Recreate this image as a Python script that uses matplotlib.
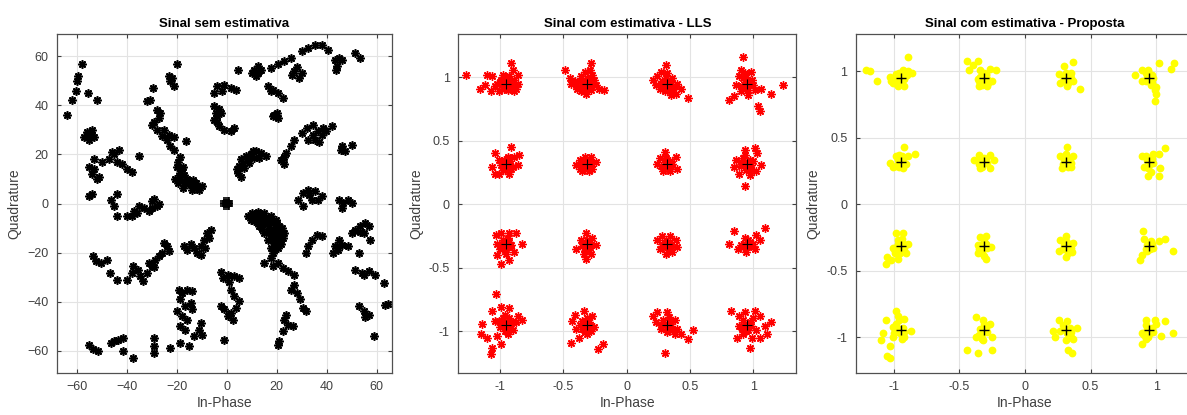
import numpy as np
import matplotlib
matplotlib.use("Agg")
import matplotlib.pyplot as plt

plt.rcParams['font.family'] = ['Liberation Sans', 'DejaVu Sans']

# ideal 16-QAM points (normalised)
ref_levels = [-0.9487, -0.3162, 0.3162, 0.9487]

# received symbols, no estimation (I, Q)
sem_q2 = [(-64, 36), (-62, 42), (-60.5, 46), (-60, 50), (-59.5, 52), (-58, 57), (-55.5, 45), (-52, 42),
          (-57, 27), (-55, 28), (-54, 30), (-56, 29), (-53, 27), (-55, 26), (-54, 28),
          (-53, 18), (-55, 15), (-53, 14), (-51, 11), (-52, 10), (-54, 12), (-50, 17),
          (-55, 3), (-54, 4), (-46.5, 1.5), (-45, -1), (-44, 4), (-44, -5),
          (-47, 18), (-45, 20), (-43, 22), (-42, 16), (-44, 17), (-40, 14), (-38, 13), (-46, 21), (-35, 19.5),
          (-38, -5), (-37, -3), (-35, -1), (-33, -2), (-31, -3), (-36, -4), (-40, -5),
          (-30, 1), (-29, 2), (-27, 0), (-30, -2), (-28, -1),
          (-29.6, 47), (-30.7, 42), (-32, 41.7), (-28, 38), (-26.6, 37), (-30, 32), (-28, 30), (-26, 27.4),
          (-24, 26), (-22.6, 23.3), (-21, 27), (-21, 22), (-16.5, 25.4), (-27, 35), (-29, 33), (-25, 30), (-23, 28),
          (-20, 57), (-23.3, 52), (-22.6, 50), (-21, 48), (-22, 51),
          (-18.6, 19), (-20, 15), (-18.6, 12.5), (-20.6, 10), (-18, 9), (-16, 10), (-14.5, 7.7), (-11.8, 7),
          (-11, 5.7), (-13, 6.5), (-16.5, 8), (-17.5, 15), (-19, 11), (-17, 11.5), (-15, 9), (-12.5, 8.5), (-19.5, 17),
          (-18, 14), (-19.5, 8.5), (-17.5, 6.5), (-14, 5.5), (-13.5, 9.5), (-10, 7)]
sem_q1 = [(-5, 45), (-3.8, 47.8), (-1, 48.4), (1.6, 47), (3.6, 46.4), (-2, 46), (-5, 39.6), (-4.4, 37), (-3.8, 35.5),
          (-2.4, 37), (-5, 34), (-3, 31.5), (-1, 30), (1.6, 29.4), (3, 30.8), (-3, 38.5), (-4, 33),
          (4.3, 54.5), (11, 54.5), (12.4, 53.2), (13.7, 54.5), (11.6, 51.8), (10, 53), (12.5, 56),
          (17.8, 55.2), (20.5, 56.6), (23, 58), (25.8, 59.3), (27, 54), (30, 53), (26, 52.5), (29, 51), (28, 55.5),
          (30, 62), (32.6, 63.4), (35.3, 64.7), (38, 64.7), (40.6, 62.7),
          (43.3, 58.6), (44.7, 59.3), (46, 58.6), (44, 56), (43.5, 54.5), (51.4, 61.3), (53.4, 59.3),
          (16.4, 47.8), (18.4, 46.4), (20.5, 45), (22.5, 43), (17.5, 46),
          (19, 36.2), (20.5, 34.9), (18.5, 35.5), (20, 37),
          (21.8, 17.9), (23, 15.9), (23.8, 20.6), (25.8, 23.3), (27, 26), (30, 28.8), (32, 30.8), (34.6, 32), (22.8, 19),
          (32.6, 26), (34.6, 28), (36.6, 29.4), (38.6, 30.8), (35.3, 26), (38, 28), (42, 31.5), (37, 25), (39.5, 29.5),
          (46, 23.3), (47.4, 21.3), (50, 24), (45.5, 22),
          (4.3, 12.5), (5, 15.2), (5.6, 18), (7.7, 19.3), (9.7, 20), (11.7, 21.3), (13.7, 20.6), (15.7, 19.3),
          (5.6, 11), (7, 14.5), (9, 16.6), (11, 18.6), (4, 14), (6.5, 16.5), (8.5, 18), (13, 18.5), (10.5, 21.5),
          (28.5, 1.6), (30.5, 4.3), (32.6, 5.7), (35.3, 5), (36.6, 1.6), (38, 3), (30.5, -1), (34, 1.6), (33, 3.5),
          (44.7, 1.6), (46.7, 0.3), (48.7, 1.6), (50, 0.3), (46, -1.8)]
sem_q4 = [(8.3, -5.2), (11, -5.2), (13.7, -4.5), (16.4, -5.8), (18.4, -7.9), (19.8, -10.6), (20.5, -13.3), (19, -16),
          (17.8, -18), (16.4, -14.7), (15, -12), (13, -9.2), (11, -7.2), (23, -12), (21.8, -14.7), (9.5, -6.5),
          (12, -6), (14.5, -6.5), (16, -8.5), (17.5, -10.5), (18.5, -13), (22, -10), (20, -8.5), (21.5, -16.5),
          (19, -18.5), (17.5, -12.5), (15, -4), (10, -4),
          (12.5, -3.5), (17.5, -5), (19.5, -6.5), (21, -9), (22.5, -14), (20.5, -18), (18, -15), (16.5, -11),
          (14.5, -8.5), (12.5, -7.5), (17, -7), (19, -11.5), (20, -15), (21, -12), (14, -10.5), (18.5, -20),
          (32.6, -17.4), (34, -14.7), (36, -12.6), (38, -13.3), (31.8, -20),
          (43.3, -17.4), (44.7, -14.7), (46, -16.7), (42.6, -20), (48.7, -17.4), (53, -20), (44.5, -19),
          (51.4, -10.6), (53.4, -9.2), (55.5, -7.9), (56.8, -9.2), (55, -12), (57.5, -14.7), (50, -12), (53.5, -11.5),
          (51.4, -26.9), (54, -28.2), (56.8, -27.5), (59.5, -28.9), (62.9, -32.3), (55, -29),
          (52.8, -41.8), (54.8, -43.8), (56.8, -45.2), (55.5, -46), (63.5, -41.1), (64.5, -41), (58.8, -54),
          (15, -24.2), (17.8, -22), (20.5, -24.2), (22.5, -26.2), (24.6, -27.5), (18.5, -25.5),
          (27, -28.9), (25.8, -35), (27.9, -36.4), (29.2, -39), (30.5, -42.5), (31.8, -43.8), (27, -33),
          (23, -47.2), (24.6, -49.3), (22.5, -52), (21, -56), (20.5, -57.4), (26.6, -50), (23.5, -45.5),
          (-2.4, -28), (0.3, -28.9), (3, -29.6), (5, -30.3), (1.6, -35), (3, -37.7), (5, -39.8), (3.6, -42.5),
          (1.6, -44.5), (-1, -43), (-2.4, -41.8), (0.3, -45.9), (2.3, -47.2), (-1, -55.4), (-1.5, -30.5), (1, -32)]
sem_q3 = [(-18, -36.4), (-16, -35), (-14, -35.7), (-18.6, -39), (-16.7, -41.8), (-14.5, -40.4), (-20, -43.8),
          (-18, -45.9), (-16, -47.2), (-18.6, -50), (-16.7, -51.3), (-14, -43), (-19, -35),
          (-10.5, -48.6), (-11.2, -51.3), (-9.8, -53.3), (-13.2, -54), (-15.2, -58), (-18.6, -56.7), (-22.6, -58.8),
          (-29.3, -54.7), (-29.3, -58), (-29.3, -60.8),
          (-37.4, -62.8), (-41.5, -60), (-46.2, -56.7), (-43.5, -55.4), (-41.5, -54.7), (-45, -56),
          (-55, -57.4), (-53.6, -59.4), (-51.5, -60),
          (-53.6, -21.4), (-52.2, -23.5), (-50.2, -24.2), (-48, -22.8), (-46.8, -28.2), (-44, -31),
          (-40, -31), (-38, -28.2), (-37.4, -25.5), (-35.4, -26.9), (-34.6, -29.6), (-33.4, -31.6), (-32, -28.2),
          (-30, -25.5), (-28.7, -22.8), (-27.3, -21.4), (-26, -20), (-24, -17.4), (-25.3, -16), (-23.3, -19.4),
          (-29, -26), (-31, -24),
          (-17.2, -17.4), (-16, -18.7), (-13.2, -18), (-11.8, -20), (-10.5, -17.4), (-9.2, -14.7), (-7.8, -12),
          (-6.5, -10.6), (-8.6, -18), (-10.5, -21), (-7, -14), (-14.5, -16.5)]

# symbols after LLS estimation: spread points, then the dense cores
lls_outer = [(-1.27, 1.02), (-1.16, 0.91), (-1.12, 0.94), (-1.10, 1.02), (-1.06, 1.01), (-1.04, 0.93), (-1.07, 0.89),
             (-1.02, 0.95), (-0.99, 0.98), (-0.97, 0.91), (-0.93, 1.01), (-0.91, 1.11), (-0.90, 1.06), (-0.89, 0.98),
             (-0.87, 0.91), (-0.86, 1.02), (-0.94, 0.90), (-0.98, 1.02), (-0.90, 0.94), (-1.01, 0.89), (-0.89, 0.89),
             (-0.86, 0.95),
             (-0.49, 1.06), (-0.45, 0.99), (-0.41, 0.97), (-0.39, 0.91), (-0.36, 1.01), (-0.33, 1.04), (-0.28, 1.11),
             (-0.29, 1.06), (-0.26, 0.98), (-0.24, 0.94), (-0.18, 0.90), (-0.22, 0.91), (-0.36, 0.89), (-0.32, 0.87),
             (-0.40, 0.94), (-0.28, 0.90), (-0.44, 0.95), (-0.27, 1.02),
             (0.21, 0.98), (0.24, 1.01), (0.27, 1.04), (0.31, 1.10), (0.32, 1.03), (0.36, 0.99), (0.40, 0.95),
             (0.43, 0.91), (0.39, 0.87), (0.35, 0.86), (0.30, 0.89), (0.26, 0.91), (0.48, 0.84), (0.23, 0.94),
             (0.27, 0.95), (0.38, 0.93), (0.34, 0.93),
             (0.92, 1.16), (0.90, 1.06), (0.89, 1.01), (0.93, 1.03), (0.98, 1.04), (0.99, 0.98), (0.86, 0.94),
             (0.90, 0.89), (0.96, 0.86), (1.01, 0.90), (1.06, 0.91), (1.14, 0.87), (1.23, 0.94), (0.81, 0.82),
             (1.04, 0.77), (1.05, 0.73), (0.93, 0.91), (0.96, 0.94), (0.85, 0.85),
             (-1.04, 0.40), (-1.06, 0.29), (-1.04, 0.24), (-1.01, 0.35), (-0.98, 0.27), (-0.93, 0.24), (-0.91, 0.45),
             (-0.89, 0.37), (-0.85, 0.39), (-0.86, 0.31), (-0.90, 0.29), (-0.99, 0.31), (-0.94, 0.37), (-1.01, 0.24),
             (-0.97, 0.35),
             (-0.40, 0.31), (-0.37, 0.35), (-0.33, 0.37), (-0.28, 0.37), (-0.24, 0.33), (-0.27, 0.28), (-0.30, 0.26),
             (-0.35, 0.26), (-0.37, 0.28), (-0.32, 0.30), (-0.27, 0.32), (-0.35, 0.32),
             (0.30, 0.41), (0.26, 0.36), (0.27, 0.30), (0.29, 0.26), (0.34, 0.26), (0.36, 0.32), (0.39, 0.37),
             (0.40, 0.28), (0.31, 0.35), (0.24, 0.32),
             (0.86, 0.35), (0.85, 0.29), (0.89, 0.24), (0.93, 0.43), (0.93, 0.39), (0.97, 0.35), (1.01, 0.44),
             (1.03, 0.40), (1.06, 0.31), (1.02, 0.26), (0.97, 0.23), (0.93, 0.14), (0.90, 0.30), (0.98, 0.28),
             (-1.03, -0.24), (-0.99, -0.23), (-0.93, -0.23), (-0.87, -0.23), (-0.83, -0.31), (-0.89, -0.38),
             (-0.93, -0.44), (-0.99, -0.47), (-1.02, -0.40), (-0.98, -0.32), (-0.91, -0.32), (-1.02, -0.31),
             (-0.95, -0.39),
             (-0.32, -0.23), (-0.36, -0.28), (-0.40, -0.35), (-0.34, -0.39), (-0.32, -0.43), (-0.28, -0.39),
             (-0.24, -0.32), (-0.27, -0.27), (-0.31, -0.32),
             (0.24, -0.28), (0.28, -0.25), (0.34, -0.25), (0.39, -0.28), (0.40, -0.34), (0.36, -0.38), (0.31, -0.39),
             (0.26, -0.35), (0.31, -0.32),
             (0.85, -0.21), (0.81, -0.31), (0.88, -0.35), (0.94, -0.38), (1.01, -0.35), (1.05, -0.28), (1.09, -0.19),
             (1.02, -0.24), (0.93, -0.27), (0.97, -0.32),
             (-1.03, -0.71), (-1.06, -0.84), (-0.99, -0.81), (-0.93, -0.82), (-0.86, -0.88), (-0.83, -0.91),
             (-0.87, -0.93), (-0.90, -0.99), (-0.96, -1.00), (-1.02, -1.04), (-1.06, -1.13), (-1.07, -1.18),
             (-1.14, -0.94), (-1.15, -1.02), (-1.10, -1.05), (-1.04, -0.92), (-0.93, -0.90), (-0.99, -1.10),
             (-0.41, -0.87), (-0.34, -0.84), (-0.27, -0.88), (-0.26, -0.97), (-0.31, -1.02), (-0.38, -1.05),
             (-0.44, -1.09), (-0.40, -0.98), (-0.35, -0.92), (-0.19, -1.10), (-0.23, -1.14), (-0.43, -0.92),
             (0.21, -0.88), (0.24, -0.85), (0.32, -0.85), (0.38, -0.91), (0.40, -0.98), (0.38, -1.02), (0.32, -1.01),
             (0.27, -0.98), (0.23, -0.93), (0.48, -1.06), (0.52, -0.99), (0.30, -1.17), (0.43, -1.02),
             (0.82, -0.84), (0.89, -0.88), (0.93, -0.85), (1.01, -0.84), (1.05, -0.88), (1.09, -0.96), (1.14, -0.93),
             (1.11, -1.02), (1.05, -1.05), (0.99, -1.05), (0.92, -1.02), (0.87, -1.05), (0.97, -1.13), (0.89, -0.96),
             (0.96, -0.99)]
lls_core = [(-0.97, 0.96), (-0.93, 0.97), (-0.95, 0.93), (-0.92, 0.94), (-0.98, 0.94), (-0.96, 0.99), (-0.91, 0.97),
            (-1.00, 0.96), (-0.94, 0.91),
            (-0.34, 0.96), (-0.30, 0.97), (-0.32, 0.93), (-0.29, 0.94), (-0.35, 0.93), (-0.31, 0.99), (-0.37, 0.97),
            (-0.33, 0.91), (-0.28, 0.92),
            (0.30, 0.96), (0.34, 0.97), (0.32, 0.93), (0.35, 0.95), (0.29, 0.93), (0.31, 0.99), (0.28, 0.97),
            (0.36, 0.91), (0.33, 0.90),
            (0.93, 0.96), (0.97, 0.97), (0.95, 0.93), (0.98, 0.95), (0.92, 0.99), (0.94, 1.00), (0.91, 0.93),
            (1.00, 0.94), (0.96, 0.90),
            (-0.97, 0.33), (-0.93, 0.34), (-0.95, 0.30), (-0.92, 0.31), (-0.98, 0.29), (-0.94, 0.36), (-0.96, 0.27),
            (-0.91, 0.28),
            (-0.34, 0.33), (-0.30, 0.34), (-0.32, 0.30), (-0.29, 0.31), (-0.35, 0.30), (-0.31, 0.35), (-0.33, 0.28),
            (0.30, 0.33), (0.34, 0.34), (0.32, 0.30), (0.35, 0.31), (0.29, 0.29), (0.31, 0.36), (0.33, 0.28),
            (0.93, 0.33), (0.97, 0.34), (0.95, 0.30), (0.98, 0.31), (0.92, 0.36), (0.94, 0.27), (1.00, 0.34),
            (0.90, 0.33),
            (-0.97, -0.31), (-0.93, -0.30), (-0.95, -0.34), (-0.92, -0.33), (-0.98, -0.28), (-0.94, -0.27),
            (-0.96, -0.36), (-1.00, -0.35),
            (-0.34, -0.31), (-0.30, -0.30), (-0.32, -0.34), (-0.29, -0.33), (-0.35, -0.33), (-0.31, -0.28),
            (-0.33, -0.37), (-0.30, -0.36),
            (0.30, -0.31), (0.34, -0.30), (0.32, -0.34), (0.35, -0.33), (0.29, -0.34), (0.31, -0.28), (0.33, -0.36),
            (0.28, -0.31),
            (0.93, -0.31), (0.97, -0.30), (0.95, -0.34), (0.98, -0.33), (0.92, -0.34), (0.96, -0.28), (0.90, -0.32),
            (1.00, -0.31),
            (-0.97, -0.94), (-0.93, -0.93), (-0.95, -0.97), (-0.92, -0.96), (-0.98, -0.90), (-0.96, -0.87),
            (-1.00, -0.97), (-0.94, -1.02), (-1.01, -0.92), (-0.90, -0.93),
            (-0.34, -0.94), (-0.30, -0.93), (-0.32, -0.97), (-0.29, -0.96), (-0.35, -0.98), (-0.31, -0.90),
            (-0.37, -0.95), (-0.33, -1.01), (-0.28, -1.00),
            (0.30, -0.94), (0.34, -0.93), (0.32, -0.97), (0.35, -0.96), (0.29, -0.91), (0.27, -0.95), (0.36, -0.99),
            (0.33, -0.89),
            (0.93, -0.94), (0.97, -0.93), (0.95, -0.97), (0.98, -0.96), (0.92, -0.91), (1.00, -0.90), (0.94, -1.00),
            (1.02, -0.99), (0.91, -0.98)]

# symbols after the proposed estimator: spread points, then the dense cores
prop_outer = [(-1.21, 1.01), (-1.13, 0.93), (-1.18, 1.00), (-1.03, 0.96), (-1.01, 0.91), (-0.97, 0.89), (-0.92, 0.89),
              (-0.89, 1.11), (-0.89, 1.00), (-0.86, 0.99), (-0.93, 1.01), (-0.98, 0.98), (-1.02, 0.93), (-0.92, 0.95),
              (-0.96, 0.92),
              (-0.44, 1.08), (-0.40, 1.05), (-0.43, 1.01), (-0.36, 1.08), (-0.34, 1.01), (-0.27, 1.02), (-0.22, 1.01),
              (-0.25, 0.93), (-0.29, 0.89), (-0.35, 0.89), (-0.36, 0.94), (-0.30, 0.98),
              (0.37, 1.07), (0.30, 1.04), (0.26, 0.98), (0.27, 0.91), (0.32, 0.89), (0.37, 0.93), (0.42, 0.87),
              (0.35, 0.99), (0.30, 0.96),
              (0.84, 0.97), (0.89, 1.01), (0.94, 1.01), (1.02, 1.06), (1.14, 1.06), (1.11, 1.02), (0.97, 0.91),
              (1.00, 0.83), (0.99, 0.78), (0.92, 0.93), (1.00, 0.88), (0.89, 0.93),
              (-0.92, 0.43), (-0.84, 0.38), (-1.03, 0.31), (-1.01, 0.28), (-0.98, 0.36), (-0.93, 0.27), (-0.89, 0.36),
              (-0.96, 0.37), (-0.91, 0.30),
              (-0.39, 0.33), (-0.35, 0.37), (-0.27, 0.37), (-0.24, 0.33), (-0.27, 0.27), (-0.34, 0.27), (-0.31, 0.31),
              (0.32, 0.43), (0.27, 0.36), (0.28, 0.27), (0.35, 0.28), (0.37, 0.36), (0.31, 0.38),
              (1.07, 0.42), (1.02, 0.38), (0.89, 0.36), (0.91, 0.28), (0.94, 0.21), (1.02, 0.21), (1.03, 0.27),
              (0.98, 0.38),
              (-0.98, -0.22), (-0.93, -0.22), (-0.89, -0.30), (-0.91, -0.37), (-0.97, -0.41), (-1.01, -0.33),
              (-1.06, -0.45), (-1.02, -0.42), (-1.05, -0.40), (-0.97, -0.30), (-0.99, -0.37),
              (-0.34, -0.25), (-0.30, -0.24), (-0.26, -0.32), (-0.30, -0.41), (-0.36, -0.37), (-0.36, -0.31),
              (0.31, -0.24), (0.37, -0.29), (0.36, -0.36), (0.31, -0.40), (0.26, -0.35), (0.27, -0.27),
              (0.90, -0.20), (0.91, -0.26), (1.07, -0.26), (1.02, -0.28), (1.13, -0.35), (0.93, -0.35), (0.89, -0.38),
              (0.88, -0.42),
              (-0.98, -0.80), (-0.97, -0.84), (-1.06, -0.87), (-0.92, -0.86), (-0.87, -0.95), (-0.92, -1.00),
              (-1.01, -1.00), (-1.08, -0.97), (-1.10, -1.02), (-1.03, -1.07), (-1.05, -1.14), (-1.03, -1.16),
              (-0.98, -0.95),
              (-0.37, -0.85), (-0.32, -0.87), (-0.27, -0.90), (-0.25, -1.00), (-0.32, -1.02), (-0.37, -1.00),
              (-0.44, -1.10), (-0.36, -1.12), (-0.25, -1.10), (-0.33, -0.96),
              (0.26, -0.87), (0.32, -0.88), (0.40, -0.93), (0.37, -1.01), (0.31, -1.02), (0.23, -1.00), (0.21, -0.95),
              (0.33, -1.10), (0.36, -1.12),
              (0.92, -0.87), (0.99, -0.87), (1.07, -0.88), (1.13, -0.97), (1.04, -0.99), (0.92, -1.01), (0.89, -1.05),
              (0.89, -0.97)]
prop_core = [(-0.97, 0.96), (-0.93, 0.97), (-0.95, 0.93), (-0.92, 0.94), (-0.98, 0.94), (-0.96, 0.99), (-0.90, 0.97),
             (-0.99, 0.91),
             (-0.34, 0.96), (-0.30, 0.97), (-0.32, 0.93), (-0.29, 0.94), (-0.35, 0.93), (-0.31, 0.99), (-0.28, 0.91),
             (-0.33, 0.90),
             (0.30, 0.96), (0.34, 0.97), (0.32, 0.93), (0.35, 0.95), (0.29, 0.93), (0.31, 0.99), (0.33, 0.91),
             (0.93, 0.96), (0.97, 0.97), (0.95, 0.93), (0.98, 0.95), (0.92, 0.99), (0.94, 1.00), (0.96, 0.90),
             (0.99, 0.86),
             (-0.97, 0.33), (-0.93, 0.34), (-0.95, 0.30), (-0.92, 0.31), (-0.98, 0.29), (-0.94, 0.36), (-0.96, 0.28),
             (-0.34, 0.33), (-0.30, 0.34), (-0.32, 0.30), (-0.29, 0.31), (-0.35, 0.30), (-0.31, 0.35), (-0.33, 0.28),
             (0.30, 0.33), (0.34, 0.34), (0.32, 0.30), (0.35, 0.31), (0.29, 0.30), (0.31, 0.36), (0.33, 0.28),
             (0.93, 0.33), (0.97, 0.34), (0.95, 0.30), (0.98, 0.31), (0.92, 0.36), (0.94, 0.27), (0.96, 0.24),
             (-0.97, -0.31), (-0.93, -0.30), (-0.95, -0.34), (-0.92, -0.33), (-0.97, -0.27), (-0.94, -0.26),
             (-0.95, -0.37), (-0.99, -0.35),
             (-0.34, -0.31), (-0.30, -0.30), (-0.32, -0.34), (-0.29, -0.33), (-0.35, -0.34), (-0.31, -0.28),
             (-0.33, -0.37), (-0.31, -0.39),
             (0.30, -0.31), (0.34, -0.30), (0.32, -0.34), (0.35, -0.33), (0.29, -0.34), (0.31, -0.28), (0.33, -0.37),
             (0.93, -0.31), (0.97, -0.30), (0.95, -0.34), (0.98, -0.33), (0.92, -0.34), (0.96, -0.28),
             (-0.97, -0.94), (-0.93, -0.93), (-0.95, -0.97), (-0.92, -0.96), (-0.98, -0.90), (-0.96, -0.87),
             (-1.00, -0.97), (-0.94, -1.01), (-1.01, -0.92),
             (-0.34, -0.94), (-0.30, -0.93), (-0.32, -0.97), (-0.29, -0.96), (-0.35, -0.98), (-0.31, -0.90),
             (-0.33, -1.01),
             (0.30, -0.94), (0.34, -0.93), (0.32, -0.97), (0.35, -0.96), (0.29, -0.91), (0.27, -0.95), (0.35, -1.00),
             (0.93, -0.94), (0.97, -0.93), (0.95, -0.97), (0.98, -0.96), (0.92, -0.91), (1.00, -0.90), (0.94, -1.00),
             (0.91, -0.98)]

sem_pts = np.array(sem_q2 + sem_q1 + sem_q4 + sem_q3)
lls_pts = np.array(lls_outer + lls_core)
prop_pts = np.array(prop_outer + prop_core)
ref_i, ref_q = np.meshgrid(ref_levels, ref_levels)
ref_i = ref_i.ravel()
ref_q = ref_q.ravel()

txt_col = '#404040'
asterisk = (8, 2, 0)

fig = plt.figure(figsize=(11.87, 4.15), dpi=100)
ax1 = fig.add_axes([0.048, 0.101, 0.282, 0.817])
ax2 = fig.add_axes([0.386, 0.101, 0.285, 0.817])
ax3 = fig.add_axes([0.721, 0.101, 0.285, 0.817])

ax1.plot(sem_pts[:, 0], sem_pts[:, 1], ls='none', marker=asterisk, ms=6, mew=1.2, color='black')
ax1.plot(ref_i, ref_q, ls='none', marker='+', ms=6, mew=1.2, color='black')

ax2.plot(lls_pts[:, 0], lls_pts[:, 1], ls='none', marker=asterisk, ms=6, mew=1.0, color='red')
ax2.plot(ref_i, ref_q, ls='none', marker='+', ms=7, mew=0.8, color='black')

ax3.plot(prop_pts[:, 0], prop_pts[:, 1], ls='none', marker='o', ms=5.6, mew=0, color='#ffff00')
ax3.plot(ref_i, ref_q, ls='none', marker='+', ms=7, mew=1.0, color='black')

ax1.set_xlim(-68, 66)
ax1.set_ylim(-69, 69)
ax1.set_xticks(np.arange(-60, 61, 20))
ax1.set_yticks(np.arange(-60, 61, 20))
ax1.set_title('Sinal sem estimativa', fontsize=9.5, fontweight='bold', pad=5)

ax2.set_xlim(-1.33, 1.34)
ax2.set_ylim(-1.33, 1.34)
ax2.set_title('Sinal com estimativa - LLS', fontsize=9.5, fontweight='bold', pad=5)

ax3.set_xlim(-1.29, 1.29)
ax3.set_ylim(-1.27, 1.28)
ax3.set_title('Sinal com estimativa - Proposta', fontsize=9.5, fontweight='bold', pad=5)

for ax in (ax2, ax3):
    ax.set_xticks([-1, -0.5, 0, 0.5, 1])
    ax.set_yticks([-1, -0.5, 0, 0.5, 1])
    ax.set_xticklabels(['-1', '-0.5', '0', '0.5', '1'])
    ax.set_yticklabels(['-1', '-0.5', '0', '0.5', '1'])

for ax in (ax1, ax2, ax3):
    ax.set_axisbelow(True)
    ax.grid(True, color='#e3e3e3', lw=0.8)
    ax.tick_params(direction='in', length=3, width=0.8, colors=txt_col, labelsize=9,
                   top=True, right=True, pad=6)
    for s in ax.spines.values():
        s.set_color('#505050')
        s.set_linewidth(0.9)
    ax.set_xlabel('In-Phase', fontsize=10, color=txt_col, labelpad=2)
    ax.set_ylabel('Quadrature', fontsize=10, color=txt_col, labelpad=4)

fig.savefig('out.png', dpi=100)
